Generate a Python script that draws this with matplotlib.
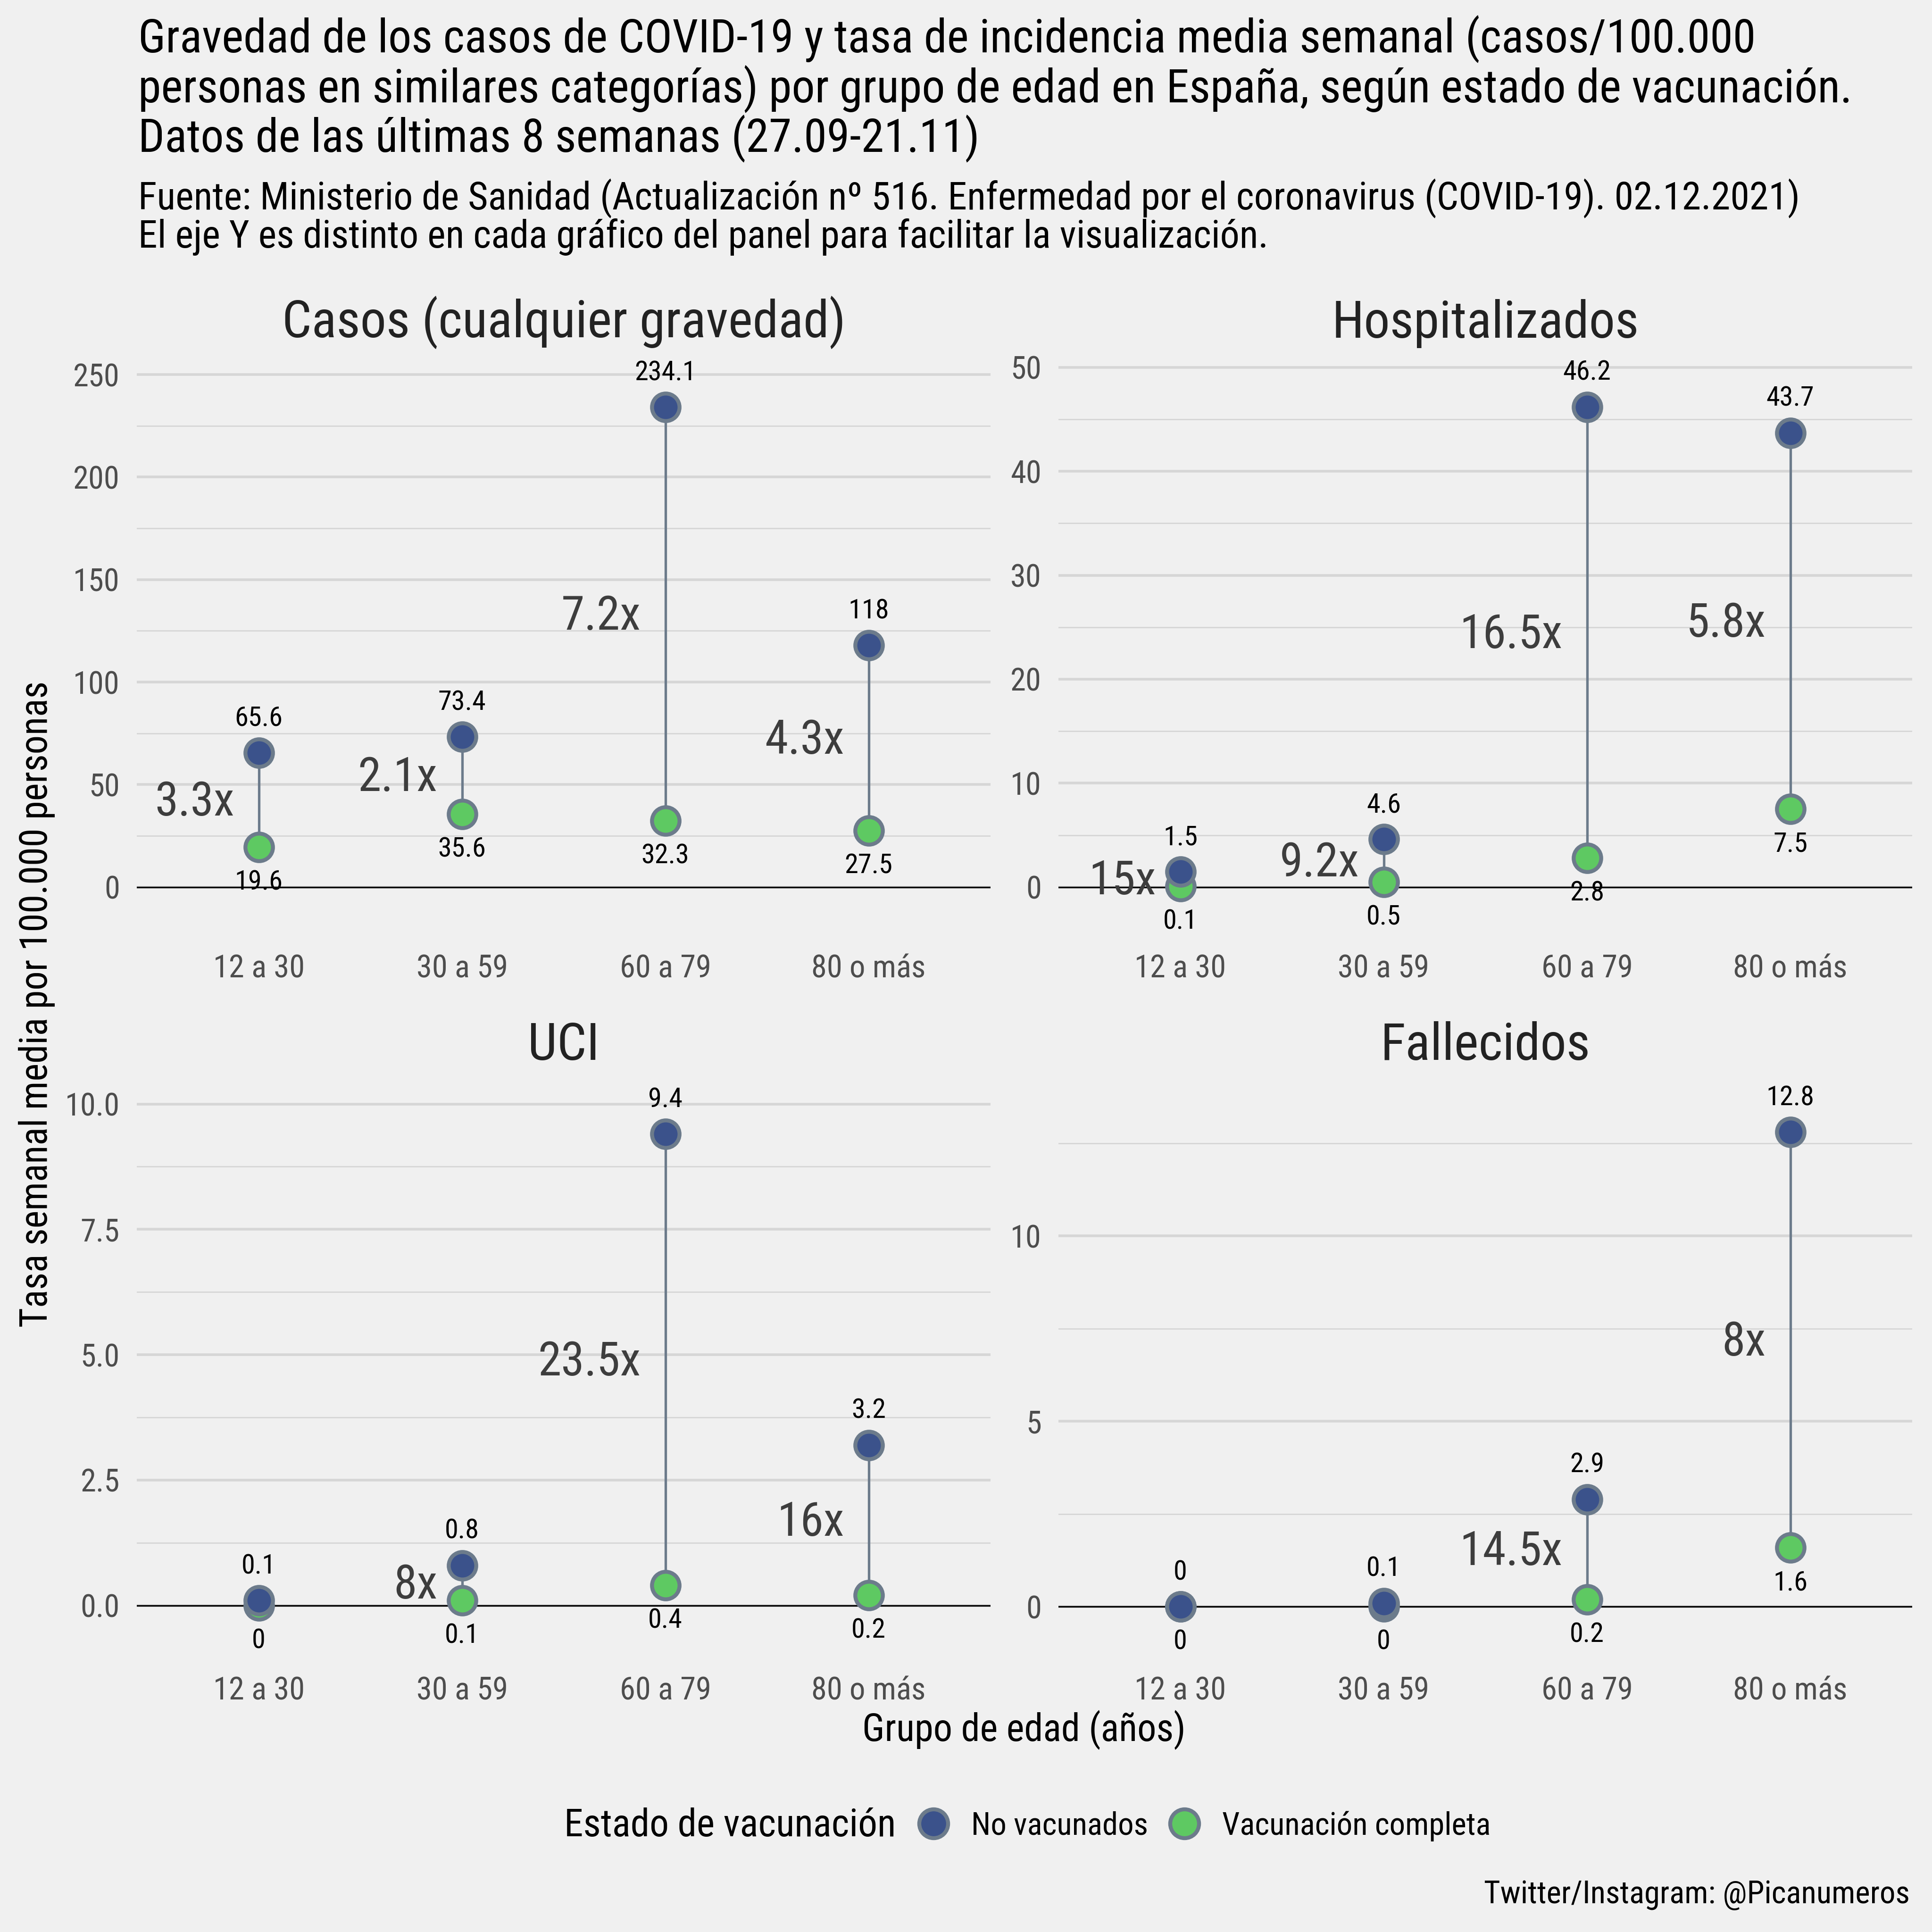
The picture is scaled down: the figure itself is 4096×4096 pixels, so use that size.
import matplotlib
matplotlib.use('Agg')
import matplotlib.pyplot as plt
from matplotlib import font_manager as fm
from matplotlib.lines import Line2D

# fuente estrecha si existe
nombres = {f.name for f in fm.fontManager.ttflist}
if 'Roboto Condensed' in nombres:
    fuente, ancho = 'Roboto Condensed', 'normal'
elif 'Liberation Sans Narrow' in nombres:
    fuente, ancho = 'Liberation Sans Narrow', 'normal'
else:
    fuente, ancho = 'DejaVu Sans', 'condensed'
plt.rcParams['font.family'] = [fuente, 'DejaVu Sans']
plt.rcParams['font.stretch'] = ancho

# datos
grupos = ['12 a 30', '30 a 59', '60 a 79', '80 o más']
paneles = ['Casos (cualquier gravedad)', 'Hospitalizados', 'UCI', 'Fallecidos']

no_vac_casos = [65.6, 73.4, 234.1, 118]
completa_casos = [19.6, 35.6, 32.3, 27.5]
razon_casos = ['3.3x', '2.1x', '7.2x', '4.3x']

no_vac_hosp = [1.5, 4.6, 46.2, 43.7]
completa_hosp = [0.1, 0.5, 2.8, 7.5]
razon_hosp = ['15x', '9.2x', '16.5x', '5.8x']

no_vac_uci = [0.1, 0.8, 9.4, 3.2]
completa_uci = [0, 0.1, 0.4, 0.2]
razon_uci = ['', '8x', '23.5x', '16x']

no_vac_fall = [0, 0.1, 2.9, 12.8]
completa_fall = [0, 0, 0.2, 1.6]
razon_fall = ['', '', '14.5x', '8x']

ticks_casos = [0, 50, 100, 150, 200, 250]
ticks_hosp = [0, 10, 20, 30, 40, 50]
ticks_uci = [0, 2.5, 5, 7.5, 10]
ticks_fall = [0, 5, 10]
etiq_uci = ['0.0', '2.5', '5.0', '7.5', '10.0']

AZUL = '#3b528b'
VERDE = '#5ec962'
BORDE = '#6c7b8b'
FONDO = '#f0f0f0'
GRID = '#d6d6d6'

fig = plt.figure(figsize=(20.48, 20.48), dpi=200, facecolor=FONDO)
P = 1568.0

def caja(x0, x1, y0, y1):
    return [x0 / P, 1 - y1 / P, (x1 - x0) / P, (y1 - y0) / P]

config = [
    (paneles[0], no_vac_casos, completa_casos, razon_casos, ticks_casos, None, (-28.85, 259.6), caja(111, 804, 288, 768)),
    (paneles[1], no_vac_hosp, completa_hosp, razon_hosp, ticks_hosp, None, (-5.69, 51.2), caja(859, 1552, 288, 768)),
    (paneles[2], no_vac_uci, completa_uci, razon_uci, ticks_uci, etiq_uci, (-1.253, 10.54), caja(111, 804, 874, 1354)),
    (paneles[3], no_vac_fall, completa_fall, razon_fall, ticks_fall, None, (-1.66, 14.29), caja(859, 1552, 874, 1354)),
]

xs = list(range(1, len(grupos) + 1))

for titulo, nv, vc, raz, ticks, etiq, ylim, pos in config:
    ax = fig.add_axes(pos)
    ax.set_facecolor(FONDO)
    for s in ax.spines.values():
        s.set_visible(False)
    ax.set_xlim(0.4, 4.6)
    ax.set_ylim(*ylim)
    ax.set_xticks(xs)
    ax.set_xticklabels(grupos)
    ax.set_yticks(ticks)
    if etiq:
        ax.set_yticklabels(etiq)
    else:
        ax.set_yticklabels([f'{t:g}' for t in ticks])
    paso = ticks[1] - ticks[0]
    menores = [t + paso / 2 for t in ticks]
    menores = [m for m in menores if m < ylim[1]]
    ax.set_yticks(menores, minor=True)
    ax.tick_params(axis='both', which='both', length=0, labelsize=24, labelcolor='#4d4d4d')
    ax.tick_params(axis='y', pad=13)
    ax.tick_params(axis='x', pad=6)
    ax.grid(True, axis='y', which='major', color=GRID, lw=2.0)
    ax.grid(True, axis='y', which='minor', color=GRID, lw=1.0)
    ax.set_axisbelow(True)
    ax.axhline(0, color='black', lw=1.2, zorder=1)
    ax.set_title(titulo, fontsize=39.7, color='#222222', pad=13)

    ax.vlines(xs, vc, nv, color=BORDE, lw=1.9, zorder=2)
    ax.plot(xs, vc, 'o', ms=21, mfc=VERDE, mec=BORDE, mew=3, ls='none', zorder=3)
    ax.plot(xs, nv, 'o', ms=21, mfc=AZUL, mec=BORDE, mew=3, ls='none', zorder=4)

    for x, a, b, r in zip(xs, nv, vc, raz):
        ax.annotate(f'{a:g}', (x, a), xytext=(0, 26), textcoords='offset points',
                    ha='center', va='center', fontsize=21, color='black')
        ax.annotate(f'{b:g}', (x, b), xytext=(0, -27), textcoords='offset points',
                    ha='center', va='center', fontsize=21, color='black')
        if r:
            ax.annotate(r, (x - 0.12, (a + b) / 2), xytext=(0, -2), textcoords='offset points',
                        ha='right', va='center', fontsize=36, color='#3d3d3d')

fig.text(112 / P, 1 - 12 / P,
         'Gravedad de los casos de COVID-19 y tasa de incidencia media semanal (casos/100.000\n'
         'personas en similares categorías) por grupo de edad en España, según estado de vacunación.\n'
         'Datos de las últimas 8 semanas (27.09-21.11)',
         ha='left', va='top', fontsize=35.4, color='black', linespacing=1.05)
fig.text(112 / P, 1 - 145 / P,
         'Fuente: Ministerio de Sanidad (Actualización nº 516. Enfermedad por el coronavirus (COVID-19). 02.12.2021)\n'
         'El eje Y es distinto en cada gráfico del panel para facilitar la visualización.',
         ha='left', va='top', fontsize=29.5, color='black', linespacing=1.0)

fig.text(30 / P, 1 - 815 / P, 'Tasa semanal media por 100.000 personas', rotation=90,
         ha='center', va='center', fontsize=29, color='black')
fig.text(831 / P, 1 - 1404 / P, 'Grupo de edad (años)', ha='center', va='center',
         fontsize=29, color='black')

fig.text(458 / P, 1 - 1482 / P, 'Estado de vacunación', ha='left', va='center',
         fontsize=29.3, color='black')
manejadores = [Line2D([], [], marker='o', ls='none', ms=22, mfc=AZUL, mec=BORDE, mew=3),
               Line2D([], [], marker='o', ls='none', ms=22, mfc=VERDE, mec=BORDE, mew=3)]
fig.legend(manejadores, ['No vacunados', 'Vacunación completa'], ncol=2,
           loc='center left', bbox_to_anchor=(722 / P, 1 - 1482 / P), frameon=False,
           fontsize=24, handlelength=1.0, handletextpad=0.7, columnspacing=0.65)

fig.text(1550 / P, 1 - 1538 / P, 'Twitter/Instagram: @Picanumeros', ha='right', va='center',
         fontsize=24, color='black')

fig.savefig('out.png', dpi=200, facecolor=FONDO)
